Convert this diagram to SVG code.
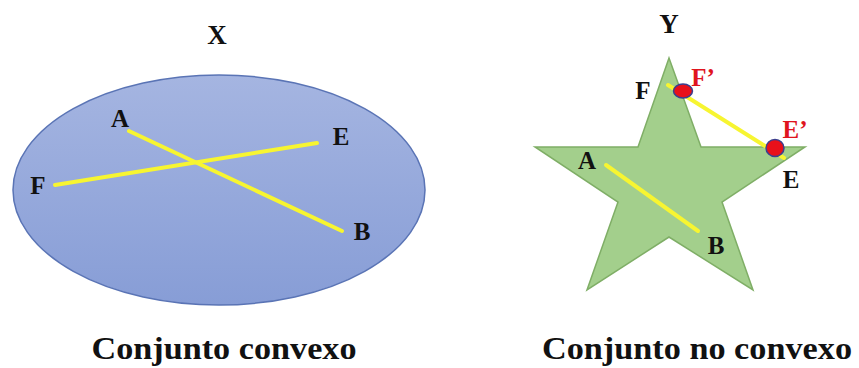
<svg xmlns="http://www.w3.org/2000/svg" width="859" height="368" viewBox="0 0 859 368">
<defs>
<linearGradient id="blueGrad" x1="0" y1="0" x2="0" y2="1">
<stop offset="0" stop-color="#a5b5e1"/>
<stop offset="1" stop-color="#879dd6"/>
</linearGradient>
</defs>
<style>
text{font-family:'Liberation Serif','Times New Roman',Times,serif;font-weight:bold;fill:#111;text-anchor:middle}
.pt{font-size:25px}
.red{fill:#e0141e}
.seg{stroke:#f7f531;stroke-width:4;stroke-linecap:round;fill:none}
.dot{fill:#e8101a;stroke:#3a3f8f;stroke-width:1.5}
</style>
<rect width="859" height="368" fill="#ffffff"/>
<g id="set-x">
<ellipse cx="219" cy="190" rx="206" ry="115" fill="url(#blueGrad)" stroke="#5a74b5" stroke-width="1.5"/>
<text x="217" y="44" font-size="27">X</text>
</g>
<g id="set-y">
<polygon points="669,58 701,147 805,147 722,202 753,290 669,237 587,290 618,202 535,147 638,147" fill="#a3cf8c" stroke="#7fae66" stroke-width="1.5"/>
<text x="669" y="33" font-size="27">Y</text>
</g>
<g id="connectors">
<line class="seg" x1="129" y1="131" x2="342" y2="231"/>
<line class="seg" x1="55" y1="185" x2="317" y2="143"/>
<line class="seg" x1="606" y1="165" x2="698" y2="231"/>
<line class="seg" x1="668" y1="85" x2="784" y2="158"/>
</g>
<g id="x-points">
<text class="pt" x="120" y="127">A</text>
<text class="pt" x="341" y="145">E</text>
<text class="pt" x="38" y="194">F</text>
<text class="pt" x="362" y="240">B</text>
</g>
<g id="y-points">
<ellipse class="dot" cx="683" cy="91" rx="9.5" ry="7"/>
<ellipse class="dot" cx="775" cy="148" rx="9" ry="8.5"/>
<text class="pt" x="643" y="99">F</text>
<text class="pt red" x="703" y="86">F’</text>
<text class="pt red" x="795" y="138">E’</text>
<text class="pt" x="791" y="188">E</text>
<text class="pt" x="587" y="169">A</text>
<text class="pt" x="716" y="254">B</text>
</g>
<g id="captions">
<text x="224" y="359" font-size="31" textLength="265" lengthAdjust="spacingAndGlyphs">Conjunto convexo</text>
<text x="697" y="359" font-size="31" textLength="310" lengthAdjust="spacingAndGlyphs">Conjunto no convexo</text>
</g>
</svg>
